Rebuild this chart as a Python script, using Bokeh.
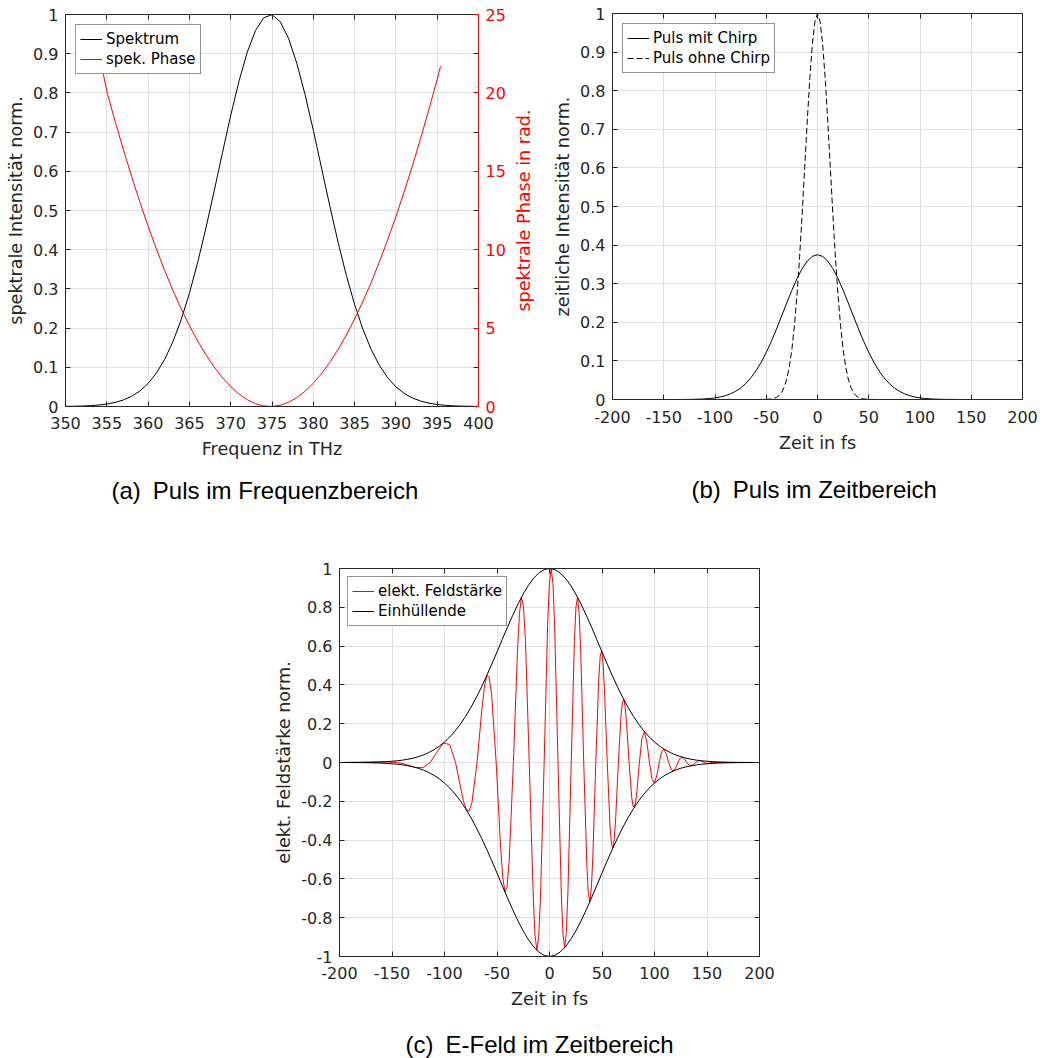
from bokeh.plotting import figure
from bokeh.models import (Range1d, LinearAxis, FixedTicker, PrintfTickFormatter,
                          CustomJSTickFormatter, Legend, LegendItem, Title)
from bokeh.layouts import column, row
from bokeh.embed import file_html
from bokeh.resources import INLINE

# ---------------- data: (a) Puls im Frequenzbereich ----------------
freq_thz = [350, 351, 352, 353, 354, 355, 356, 357, 358, 359,
            360, 361, 362, 363, 364, 365, 366, 367, 368, 369,
            370, 371, 372, 373, 374, 375, 376, 377, 378, 379,
            380, 381, 382, 383, 384, 385, 386, 387, 388, 389,
            390, 391, 392, 393, 394, 395, 396, 397, 398, 399, 400]
spectrum_norm = [0.00035, 0.00066, 0.0012, 0.00214, 0.00371, 0.00627, 0.01034, 0.01659, 0.02596, 0.03958,
                 0.05877, 0.08513, 0.1201, 0.1651, 0.2212, 0.2887, 0.3672, 0.4552, 0.5498, 0.6471,
                 0.7422, 0.8296, 0.9036, 0.9590, 0.9918, 0.9995, 0.9815, 0.9393, 0.8759, 0.7960,
                 0.7048, 0.6082, 0.5114, 0.4190, 0.3346, 0.2603, 0.1974, 0.1458, 0.1050, 0.0736,
                 0.0503, 0.0335, 0.0218, 0.01377, 0.00849, 0.00509, 0.00298, 0.0017, 0.00095, 0.00051, 0.00027]
phase_freq_thz = [354.4, 355, 356, 357, 358, 359, 360, 361, 362, 363, 364, 365, 366, 367, 368, 369,
                  370, 371, 372, 373, 374, 375, 376, 377, 378, 379, 380, 381, 382, 383, 384, 385,
                  386, 387, 388, 389, 390, 391, 392, 393, 394, 395, 395.4]
phase_rad = [21.7, 20.09, 18.20, 16.40, 14.68, 13.04, 11.50, 10.05, 8.68, 7.41, 6.24, 5.16, 4.18, 3.30, 2.52, 1.84,
             1.27, 0.80, 0.435, 0.18, 0.036, 0.002, 0.08, 0.27, 0.567, 0.97, 1.48, 2.10, 2.82, 3.64, 4.56, 5.58,
             6.70, 7.91, 9.22, 10.62, 12.11, 13.69, 15.35, 17.11, 18.95, 20.87, 21.7]
freq_ticks = [350, 355, 360, 365, 370, 375, 380, 385, 390, 395, 400]
norm_ticks = [0, 0.1, 0.2, 0.3, 0.4, 0.5, 0.6, 0.7, 0.8, 0.9, 1]
phase_ticks = [0, 5, 10, 15, 20, 25]
phase_minor_ticks = [2.5, 7.5, 12.5, 17.5, 22.5]

# ---------------- data: (b) Puls im Zeitbereich ----------------
time_fs = [-200, -195, -190, -185, -180, -175, -170, -165, -160, -155,
           -150, -145, -140, -135, -130, -125, -120, -115, -110, -105,
           -100, -95, -90, -85, -80, -75, -70, -65, -60, -55,
           -50, -45, -40, -35, -30, -25, -20, -15, -10, -5,
           0,
           5, 10, 15, 20, 25, 30, 35, 40, 45, 50,
           55, 60, 65, 70, 75, 80, 85, 90, 95, 100,
           105, 110, 115, 120, 125, 130, 135, 140, 145, 150,
           155, 160, 165, 170, 175, 180, 185, 190, 195, 200]
chirp_intensity = [0, 0, 0, 0, 0, 0, 0, 0, 0, 0,
                   0, 0, 0, 0.0001, 0.0002, 0.0003, 0.0006, 0.0010, 0.0016, 0.0026,
                   0.0042, 0.0065, 0.0098, 0.0146, 0.0211, 0.0299, 0.0414, 0.0561, 0.0743, 0.0963,
                   0.1219, 0.1509, 0.1827, 0.2162, 0.2502, 0.2831, 0.3133, 0.3389, 0.3585, 0.3708,
                   0.375,
                   0.3708, 0.3585, 0.3389, 0.3133, 0.2831, 0.2502, 0.2162, 0.1827, 0.1509, 0.1219,
                   0.0963, 0.0743, 0.0561, 0.0414, 0.0299, 0.0211, 0.0146, 0.0098, 0.0065, 0.0042,
                   0.0026, 0.0016, 0.0010, 0.0006, 0.0003, 0.0002, 0.0001, 0, 0, 0,
                   0, 0, 0, 0, 0, 0, 0, 0, 0, 0]
nochirp_time_fs = [-200, -60, -50, -45, -40, -37.5, -35, -32.5, -30, -27.5, -25, -22.5, -20, -17.5, -15,
                   -12.5, -10, -7.5, -5, -2.5, 0, 2.5, 5, 7.5, 10, 12.5, 15, 17.5, 20, 22.5, 25,
                   27.5, 30, 32.5, 35, 37.5, 40, 45, 50, 60, 200]
nochirp_intensity = [0, 0, 0.0003, 0.0013, 0.0054, 0.0101, 0.0183, 0.0318, 0.0529, 0.0846, 0.1299, 0.1915,
                     0.2709, 0.3679, 0.4797, 0.6004, 0.7214, 0.8322, 0.9216, 0.9798, 1.0, 0.9798, 0.9216,
                     0.8322, 0.7214, 0.6004, 0.4797, 0.3679, 0.2709, 0.1915, 0.1299, 0.0846, 0.0529,
                     0.0318, 0.0183, 0.0101, 0.0054, 0.0013, 0.0003, 0, 0]
time_ticks = [-200, -150, -100, -50, 0, 50, 100, 150, 200]

# ---------------- data: (c) E-Feld im Zeitbereich ----------------
envelope = [0.0001, 0.0002, 0.0003, 0.0005, 0.0007, 0.0010, 0.0015, 0.0022, 0.0032, 0.0045,
            0.0064, 0.0089, 0.0122, 0.0166, 0.0224, 0.0298, 0.0393, 0.0512, 0.0659, 0.0839,
            0.1056, 0.1315, 0.1619, 0.1971, 0.2373, 0.2824, 0.3324, 0.3869, 0.4452, 0.5067,
            0.5701, 0.6344, 0.6979, 0.7593, 0.8169, 0.8689, 0.9140, 0.9507, 0.9778, 0.9944,
            1.0,
            0.9944, 0.9778, 0.9507, 0.9140, 0.8689, 0.8169, 0.7593, 0.6979, 0.6344, 0.5701,
            0.5067, 0.4452, 0.3869, 0.3324, 0.2824, 0.2373, 0.1971, 0.1619, 0.1315, 0.1056,
            0.0839, 0.0659, 0.0512, 0.0393, 0.0298, 0.0224, 0.0166, 0.0122, 0.0089, 0.0064,
            0.0045, 0.0032, 0.0022, 0.0015, 0.0010, 0.0007, 0.0005, 0.0003, 0.0002, 0.0001]
field_time_fs = [-200, -165.8, -154.5, -144.7, -135.9, -128.0, -120.6, -113.7, -107.2, -101.0,
                 -95.1, -89.5, -84.1, -81.5, -78.9, -76.4, -73.9, -69.0, -64.3, -62.0,
                 -59.7, -57.5, -55.2, -50.8, -46.6, -44.5, -42.4, -40.4, -38.4, -34.4,
                 -30.5, -28.6, -26.7, -24.8, -22.9, -19.3, -15.6, -13.9, -12.1, -10.3,
                 -8.6, -5.1, -1.8, -0.1, 1.6, 3.3, 4.9, 8.1, 11.3, 12.9,
                 14.5, 16.1, 17.6, 20.7, 23.7, 25.2, 26.7, 28.2, 29.7, 32.6,
                 35.6, 37.0, 38.4, 39.9, 41.3, 44.1, 46.9, 48.3, 49.6, 51.0,
                 52.3, 55.0, 57.7, 59.1, 60.4, 61.7, 63.0, 65.6, 68.2, 69.5,
                 70.7, 72.0, 73.3, 75.8, 78.3, 79.5, 80.7, 82.0, 83.2, 85.6,
                 88.0, 90.4, 92.8, 95.2, 97.5, 99.9, 102.2, 104.5, 106.7, 109.0,
                 111.2, 113.5, 115.7, 117.9, 120.1, 122.3, 124.4, 126.6, 128.7, 130.8,
                 133.0, 135.1, 137.2, 139.2, 141.3, 143.3, 145.4, 147.4, 149.4, 151.4,
                 153.4, 200]
field_norm = [0, 0.0021, 0.0033, 0, -0.0111, -0.0252, -0.0269, 0, 0.0535, 0.1009,
              0.0925, 0, -0.1442, -0.2076, -0.2469, -0.2488, -0.2074, 0, 0.2795, 0.3894,
              0.4492, 0.4400, 0.3564, 0, -0.4341, -0.5920, -0.6672, -0.6402, -0.5079, 0,
              0.5737, 0.7687, 0.8521, 0.8046, 0.6283, 0, -0.6693, -0.8849, -0.9677, -0.9021,
              -0.6955, 0, 0.7066, 0.9239, 0.9994, 0.9217, 0.7033, 0, -0.6870, -0.8900,
              -0.9539, -0.8719, -0.6595, 0, 0.6230, 0.8010, 0.8515, 0.7728, 0.5798, 0,
              -0.5322, -0.6793, -0.7177, -0.6465, -0.4823, 0, 0.4317, 0.5475, 0.5751, 0.5155,
              0.3821, 0, -0.3344, -0.4219, -0.4409, -0.3927, -0.2899, 0, 0.2489, 0.3125,
              0.3249, 0.2882, 0.2116, 0, -0.1784, -0.2232, -0.2310, -0.2042, -0.1493, 0,
              0.1238, 0.1590, 0.1020, 0, -0.0834, -0.1064, -0.0677, 0, 0.0547, 0.0692,
              0.0438, 0, -0.0349, -0.0440, -0.0276, 0, 0.0218, 0.0273, 0.0171, 0,
              -0.0133, -0.0166, -0.0103, 0, 0.0080, 0.0099, 0.0061, 0, -0.0047, -0.0058,
              0, 0]
field_ticks = [-1, -0.8, -0.6, -0.4, -0.2, 0, 0.2, 0.4, 0.6, 0.8, 1]

captions = ["(a)\u2002Puls im Frequenzbereich",
            "(b)\u2002Puls im Zeitbereich",
            "(c)\u2002E-Feld im Zeitbereich"]

# ---------------- style ----------------
FIG_FONT = "DejaVu Sans"
CAP_FONT = "Liberation Sans"
AXC = "#262626"
GRIDC = "#dfdfdf"
RED = "#ff0000"
TICK_FS = "16px"
LAB_FS = "17.6px"
LEG_FS = "15px"
CAP_FS = "24px"

ROW1_H = 521


def make_fig(width, height, xr, yr, mbl, mbr, mbt, mbb):
    p = figure(width=width, height=height, x_range=Range1d(*xr), y_range=Range1d(*yr),
               output_backend="svg", toolbar_location=None,
               min_border_left=mbl, min_border_right=mbr,
               min_border_top=mbt, min_border_bottom=mbb)
    p.outline_line_color = None
    p.background_fill_color = "white"
    p.border_fill_color = "white"
    p.xgrid.grid_line_color = GRIDC
    p.ygrid.grid_line_color = GRIDC
    p.xgrid.grid_line_width = 1
    p.ygrid.grid_line_width = 1
    return p


def blank_fig(width, height, mbl, mbr, mbt, mbb):
    p = figure(width=width, height=height, x_axis_type=None, y_axis_type=None,
               output_backend="svg", toolbar_location=None,
               min_border_left=mbl, min_border_right=mbr,
               min_border_top=mbt, min_border_bottom=mbb)
    p.outline_line_color = None
    p.background_fill_color = "white"
    p.border_fill_color = "white"
    p.grid.visible = False
    return p


def style_axis(ax, ticks, color=AXC, show_labels=True, standoff=7, minor=None,
               label=None, label_standoff=7):
    ax.ticker = FixedTicker(ticks=ticks, minor_ticks=minor or [])
    ax.axis_line_color = color
    ax.axis_line_width = 1
    ax.major_tick_line_color = color
    ax.major_tick_line_width = 1
    ax.major_tick_in = 5
    ax.major_tick_out = 0
    if minor:
        ax.minor_tick_line_color = AXC
        ax.minor_tick_in = 5
        ax.minor_tick_out = 0
    else:
        ax.minor_tick_line_color = None
    ax.major_label_text_font = FIG_FONT
    ax.major_label_text_color = color
    ax.major_label_text_font_size = TICK_FS
    if show_labels:
        ax.major_label_standoff = standoff
        ax.formatter = PrintfTickFormatter(format="%g")
    else:
        ax.major_label_standoff = 0
        ax.formatter = CustomJSTickFormatter(code="return '';")
    if label is not None:
        ax.axis_label = label
        ax.axis_label_standoff = label_standoff
        ax.axis_label_text_font = FIG_FONT
        ax.axis_label_text_font_size = LAB_FS
        ax.axis_label_text_font_style = "normal"
        ax.axis_label_text_color = AXC


def add_box(p, xticks, yticks, right=True):
    top = LinearAxis()
    style_axis(top, xticks, show_labels=False)
    p.add_layout(top, "above")
    if right:
        r = LinearAxis()
        style_axis(r, yticks, show_labels=False)
        p.add_layout(r, "right")


def add_title(p, text, side, standoff, offset=0, align="left", font=CAP_FONT,
              size=CAP_FS, color="black"):
    t = Title(text=text, align=align, vertical_align="bottom", text_font=font,
              text_font_size=size, text_font_style="normal", text_color=color,
              standoff=standoff, offset=offset)
    p.add_layout(t, side)


def style_legend(lg, margin):
    lg.location = "top_left"
    lg.margin = margin
    lg.padding = 4
    lg.spacing = 0
    lg.label_height = 20
    lg.glyph_height = 20
    lg.glyph_width = 22
    lg.label_standoff = 4
    lg.label_text_font = FIG_FONT
    lg.label_text_font_size = LEG_FS
    lg.label_text_color = "black"
    lg.label_text_baseline = "middle"
    lg.border_line_color = AXC
    lg.border_line_width = 1
    lg.background_fill_color = "white"
    lg.background_fill_alpha = 1.0


# ---------------- (a) ----------------
pa = make_fig(508, ROW1_H, (350, 400), (0, 1), 65, 30, 14, ROW1_H - 406)
pa.extra_y_ranges = {"phase": Range1d(0, 25)}
style_axis(pa.xaxis[0], freq_ticks, standoff=10, label="Frequenz in THz")
style_axis(pa.yaxis[0], norm_ticks, standoff=7, label="spektrale Intensität norm.", label_standoff=4)
add_box(pa, freq_ticks, norm_ticks, right=False)
red_axis = LinearAxis(y_range_name="phase")
style_axis(red_axis, phase_ticks, color=RED, standoff=7, minor=phase_minor_ticks)
pa.add_layout(red_axis, "right")

r_spec = pa.line(freq_thz, spectrum_norm, line_color="black", line_width=1)
r_phase = pa.line(phase_freq_thz, phase_rad, line_color=RED, line_width=1, y_range_name="phase")
lga = Legend(items=[LegendItem(label="Spektrum", renderers=[r_spec]),
                    LegendItem(label="spek. Phase", renderers=[r_phase])])
style_legend(lga, 10)
pa.add_layout(lga, "center")
add_title(pa, captions[0], "below", 26, offset=46)

# strip holding the label of the red (right) axis of (a), reading bottom to top
pr = blank_fig(30, ROW1_H, 25, 0, 14, ROW1_H - 406)
add_title(pr, "spektrale Phase in rad.", "left", 0, align="center", font=FIG_FONT,
          size=LAB_FS, color=RED)

# ---------------- (b) ----------------
pb = make_fig(516, ROW1_H, (-200, 200), (0, 1), 74, 32, 13, ROW1_H - 400)
style_axis(pb.xaxis[0], time_ticks, standoff=11, label="Zeit in fs")
style_axis(pb.yaxis[0], norm_ticks, standoff=7, label="zeitliche Intensität norm.", label_standoff=4)
add_box(pb, time_ticks, norm_ticks)
r_chirp = pb.line(time_fs, chirp_intensity, line_color="black", line_width=1)
r_nochirp = pb.line(nochirp_time_fs, nochirp_intensity, line_color="black", line_width=1,
                    line_dash="6 3")
lgb = Legend(items=[LegendItem(label="Puls mit Chirp", renderers=[r_chirp]),
                    LegendItem(label="Puls ohne Chirp", renderers=[r_nochirp])])
style_legend(lgb, 10)
pb.add_layout(lgb, "center")
add_title(pb, captions[1], "below", 37, offset=79)

# ---------------- (c) ----------------
PC_TOP = 568 - ROW1_H
PC_H = PC_TOP + 388 + 66
pc = make_fig(1054, PC_H, (-200, 200), (-1, 1), 339, 295, PC_TOP, 66)
style_axis(pc.xaxis[0], time_ticks, standoff=10, label="Zeit in fs")
style_axis(pc.yaxis[0], field_ticks, standoff=7, label="elekt. Feldstärke norm.", label_standoff=4)
add_box(pc, time_ticks, field_ticks)
r_field = pc.line(field_time_fs, field_norm, line_color=RED, line_width=1)
r_env = pc.line(time_fs, envelope, line_color="black", line_width=1)
pc.line(time_fs, [-v for v in envelope], line_color="black", line_width=1)
lgc = Legend(items=[LegendItem(label="elekt. Feldstärke", renderers=[r_field]),
                    LegendItem(label="Einhüllende", renderers=[r_env])])
style_legend(lgc, 8)
pc.add_layout(lgc, "center")

# caption strip for (c); its frame lines up with the frame of (c)
CAP_H = 1058 - ROW1_H - PC_H
pcap = blank_fig(1054, CAP_H, 0, 0, CAP_H - 1, 0)
add_title(pcap, captions[2], "above", 0, offset=66)

# each figure of the first row in its own column so that their frames are not aligned
layout = column(row(column(pa), column(pr), column(pb)), pc, pcap)

with open("out.html", "w", encoding="utf-8") as f:
    f.write(file_html(layout, INLINE))
